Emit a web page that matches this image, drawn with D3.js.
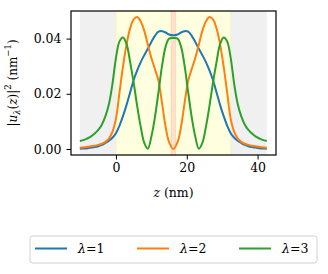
<!DOCTYPE html>
<html>
<head>
<meta charset="utf-8">
<script src="https://cdn.jsdelivr.net/npm/d3@7"></script>
<style>
  body { margin: 0; background: #fff; }
  svg { display: block; }
</style>
</head>
<body>
<svg id="chart" width="328" height="274"></svg>
<script>
// sample positions (nm)
const zValues = [
  -10.2, -9, -8, -7, -6, -5, -4, -3, -2, -1, 0, 1, 2, 3, 4, 5, 6, 7, 8, 9, 10, 11, 12, 13, 14, 15, 16.2,
  17.4, 18.4, 19.4, 20.4, 21.4, 22.4, 23.4, 24.4, 25.4, 26.4, 27.4, 28.4, 29.4, 30.4, 31.4, 32.4,
  33.4, 34.4, 35.4, 36.4, 37.4, 38.4, 39.4, 40.4, 41.4, 42.6
];

const lambda1 = [
  0.0001, 0.0002, 0.0003, 0.0005, 0.0007, 0.0010, 0.0015, 0.0022, 0.0030, 0.0041, 0.0057, 0.0085, 0.0120,
  0.0160, 0.0205, 0.0250, 0.0285, 0.0315, 0.0340, 0.0363, 0.0388, 0.0410, 0.0425, 0.0427, 0.0422, 0.0415, 0.0412,
  0.0415, 0.0422, 0.0427, 0.0425, 0.0410, 0.0388, 0.0363, 0.0340, 0.0315, 0.0285, 0.0250, 0.0205, 0.0160,
  0.0120, 0.0085, 0.0057, 0.0041, 0.0030, 0.0022, 0.0015, 0.0010, 0.0007, 0.0005, 0.0003, 0.0002, 0.0001
];

const lambda2 = [
  0.0005, 0.0006, 0.0008, 0.0010, 0.0012, 0.0015, 0.0019, 0.0026, 0.0038, 0.0062, 0.0110, 0.0205, 0.0300,
  0.0380, 0.0437, 0.0470, 0.0478, 0.0462, 0.0428, 0.0378, 0.0330, 0.0290, 0.0248, 0.0168, 0.0082, 0.0025, 0.0000,
  0.0025, 0.0082, 0.0168, 0.0248, 0.0290, 0.0330, 0.0378, 0.0428, 0.0462, 0.0478, 0.0470, 0.0437, 0.0380,
  0.0300, 0.0205, 0.0110, 0.0062, 0.0038, 0.0026, 0.0019, 0.0015, 0.0012, 0.0010, 0.0008, 0.0006, 0.0005
];

const lambda3 = [
  0.0029, 0.0033, 0.0039, 0.0046, 0.0056, 0.0069, 0.0088, 0.0118, 0.0162, 0.0235, 0.0330, 0.0390, 0.0404,
  0.0380, 0.0315, 0.0240, 0.0155, 0.0080, 0.0022, 0.0001, 0.0045, 0.0115, 0.0205, 0.0300, 0.0370, 0.0400, 0.0402,
  0.0400, 0.0370, 0.0300, 0.0205, 0.0115, 0.0045, 0.0001, 0.0022, 0.0080, 0.0155, 0.0240, 0.0315, 0.0380,
  0.0404, 0.0390, 0.0330, 0.0235, 0.0162, 0.0118, 0.0088, 0.0069, 0.0056, 0.0046, 0.0039, 0.0033, 0.0029
];

const seriesNames = ['1', '2', '3'];
const seriesColors = ['#1f77b4', '#ff7f0e', '#2ca02c'];

// shaded regions: [start, end] in nm
const barrierSpans = [[-10.2, 0], [32.4, 42.6]];
const wellSpan = [0, 32.4];
const centerSpan = [15.55, 16.85];

const xTicks = [0, 20, 40];
const yTicks = [0, 0.02, 0.04];

const fontStack = 'DejaVu Serif';
const fontSize = 12.5;
const margin = { top: 11, right: 52, bottom: 119, left: 71 };
const width = 328, height = 274;
const plotW = width - margin.left - margin.right;
const plotH = height - margin.top - margin.bottom;

const x = d3.scaleLinear().domain([-12.7, 45.2]).range([0, plotW]);
const y = d3.scaleLinear().domain([-0.00217, 0.05]).range([plotH, 0]);

const svg = d3.select('#chart').attr('font-family', fontStack);
const g = svg.append('g').attr('transform', `translate(${margin.left},${margin.top})`);

// background spans
g.selectAll('.barrier')
  .data(barrierSpans)
  .join('rect')
  .attr('x', (d) => x(d[0]))
  .attr('width', (d) => x(d[1]) - x(d[0]))
  .attr('y', 0)
  .attr('height', plotH)
  .attr('fill', '#f0f0f0');

g.append('rect')
  .attr('x', x(wellSpan[0]))
  .attr('width', x(wellSpan[1]) - x(wellSpan[0]))
  .attr('y', 0)
  .attr('height', plotH)
  .attr('fill', '#ffffe0')
  .attr('stroke', '#f4f4c8')
  .attr('stroke-width', 1);

g.append('rect')
  .attr('x', x(centerSpan[0]))
  .attr('width', x(centerSpan[1]) - x(centerSpan[0]))
  .attr('y', 0)
  .attr('height', plotH)
  .attr('fill', 'rgba(255,120,110,0.22)')
  .attr('stroke', 'rgba(255,120,110,0.18)')
  .attr('stroke-width', 1);

// curves
const series = [lambda1, lambda2, lambda3];
const line = d3.line()
  .x((d) => x(d[0]))
  .y((d) => y(d[1]))
  .curve(d3.curveCatmullRom.alpha(0.5));

series.forEach((values, i) => {
  g.append('path')
    .datum(zValues.map((z, k) => [z, values[k]]))
    .attr('fill', 'none')
    .attr('stroke', seriesColors[i])
    .attr('stroke-width', 2)
    .attr('stroke-linejoin', 'round')
    .attr('d', line);
});

// axes
const xAxis = g.append('g')
  .attr('transform', `translate(0,${plotH})`)
  .call(d3.axisBottom(x).tickValues(xTicks).tickFormat(d3.format('d')).tickSize(4.5).tickPadding(4));
const yAxis = g.append('g')
  .call(d3.axisLeft(y).tickValues(yTicks).tickFormat(d3.format('.2f')).tickSize(4.5).tickPadding(5));

[xAxis, yAxis].forEach((ax) => {
  ax.attr('font-family', fontStack).attr('font-size', fontSize);
  ax.select('.domain').remove();
  ax.selectAll('line').attr('stroke', '#000').attr('stroke-width', 1);
  ax.selectAll('text').attr('fill', '#000');
});

g.append('rect')
  .attr('width', plotW)
  .attr('height', plotH)
  .attr('fill', 'none')
  .attr('stroke', '#000')
  .attr('stroke-width', 1.2);

// axis labels
const xLabel = g.append('text')
  .attr('x', plotW / 2)
  .attr('y', plotH + 42)
  .attr('text-anchor', 'middle')
  .attr('font-size', fontSize);
xLabel.append('tspan').attr('font-style', 'italic').text('z');
xLabel.append('tspan').text(' (nm)');

const yLabel = g.append('text')
  .attr('transform', `translate(${-54},${plotH / 2}) rotate(-90)`)
  .attr('text-anchor', 'middle')
  .attr('font-size', 12);
yLabel.append('tspan').text('|');
yLabel.append('tspan').attr('font-style', 'italic').text('u');
yLabel.append('tspan').attr('font-style', 'italic').attr('font-size', 8.5).attr('dy', 3).text('λ');
yLabel.append('tspan').attr('dy', -3).text('(');
yLabel.append('tspan').attr('font-style', 'italic').text('z');
yLabel.append('tspan').text(')|');
yLabel.append('tspan').attr('font-size', 8.5).attr('dy', -6).text('2');
yLabel.append('tspan').attr('dy', 6).text(' (nm');
yLabel.append('tspan').attr('font-size', 8.5).attr('dy', -6).text('−1');
yLabel.append('tspan').attr('dy', 6).text(')');

// legend
const legend = svg.append('g').attr('transform', 'translate(30,236)');
legend.append('rect')
  .attr('width', 287)
  .attr('height', 27)
  .attr('rx', 2.5)
  .attr('fill', '#fff')
  .attr('stroke', '#d0d0d0')
  .attr('stroke-width', 1);

const entrySpacing = 102;
seriesNames.forEach((name, i) => {
  const item = legend.append('g').attr('transform', `translate(${5 + i * entrySpacing},12.5)`);
  item.append('line')
    .attr('x1', 0).attr('x2', 32)
    .attr('stroke', seriesColors[i])
    .attr('stroke-width', 2);
  const label = item.append('text')
    .attr('x', 43)
    .attr('y', 4.5)
    .attr('font-size', fontSize);
  label.append('tspan').attr('font-style', 'italic').text('λ');
  label.append('tspan').text('=' + name);
});
</script>
</body>
</html>
